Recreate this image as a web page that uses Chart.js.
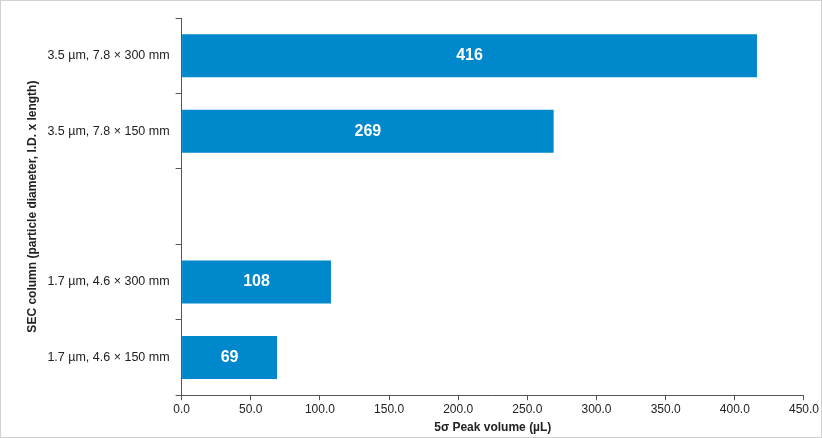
<!DOCTYPE html>
<html><head><meta charset="utf-8">
<script src="https://cdn.jsdelivr.net/npm/chart.js@4"></script>
<style>html,body{margin:0;padding:0;background:#fff}#wrap{position:absolute;left:0;top:0;width:820px;height:436px;border:1px solid #d0d0d0}</style>
</head><body><div id="wrap"><canvas id="c"></canvas></div>
<script>
const categories = ["3.5 µm, 7.8 × 300 mm","3.5 µm, 7.8 × 150 mm","","1.7 µm, 4.6 × 300 mm","1.7 µm, 4.6 × 150 mm"];
const values = [416, 269, null, 108, 69];
const xTicks = [0,50,100,150,200,250,300,350,400,450];
const labelPlugin = {id:'lbl',afterDatasetsDraw(ch){const ctx=ch.ctx;const m=ch.getDatasetMeta(0);
ctx.save();ctx.fillStyle='#fff';ctx.font='bold 16px "Liberation Sans"';ctx.textAlign='center';ctx.textBaseline='middle';
m.data.forEach((b,i)=>{if(values[i]==null)return;ctx.fillText(String(values[i]),(b.x+b.base)/2,b.y);});ctx.restore();}};
new Chart(document.getElementById('c'),{type:'bar',
data:{labels:categories,datasets:[{data:values,backgroundColor:'#0088cc',categoryPercentage:1,barPercentage:0.57}]},
options:{indexAxis:'y',responsive:true,maintainAspectRatio:false,animation:false,
layout:{padding:{top:17,right:14,left:20,bottom:0}},
plugins:{legend:{display:false},tooltip:{enabled:false}},
scales:{
x:{min:0,max:450,afterBuildTicks(a){a.ticks=xTicks.map(v=>({value:v}));},
ticks:{callback:v=>Number(v).toFixed(1),color:'#222',font:{family:'Liberation Sans',size:12},padding:2},
grid:{display:true,drawOnChartArea:false,drawTicks:true,tickLength:5,color:'#555'},border:{color:'#555'},
title:{display:true,text:'5σ Peak volume (µL)',color:'#222',font:{family:'Liberation Sans',size:12,weight:'bold'},padding:{top:2,bottom:2}}},
y:{ticks:{color:'#222',font:{family:'Liberation Sans',size:12.5},padding:6},
grid:{display:true,drawOnChartArea:false,offset:true,drawTicks:true,tickLength:6,color:'#555'},border:{color:'#555'},
title:{display:true,text:'SEC column (particle diameter, I.D. x length)',color:'#222',font:{family:'Liberation Sans',size:12,weight:'bold'},padding:{bottom:2}}}
}},plugins:[labelPlugin]});
</script></body></html>
